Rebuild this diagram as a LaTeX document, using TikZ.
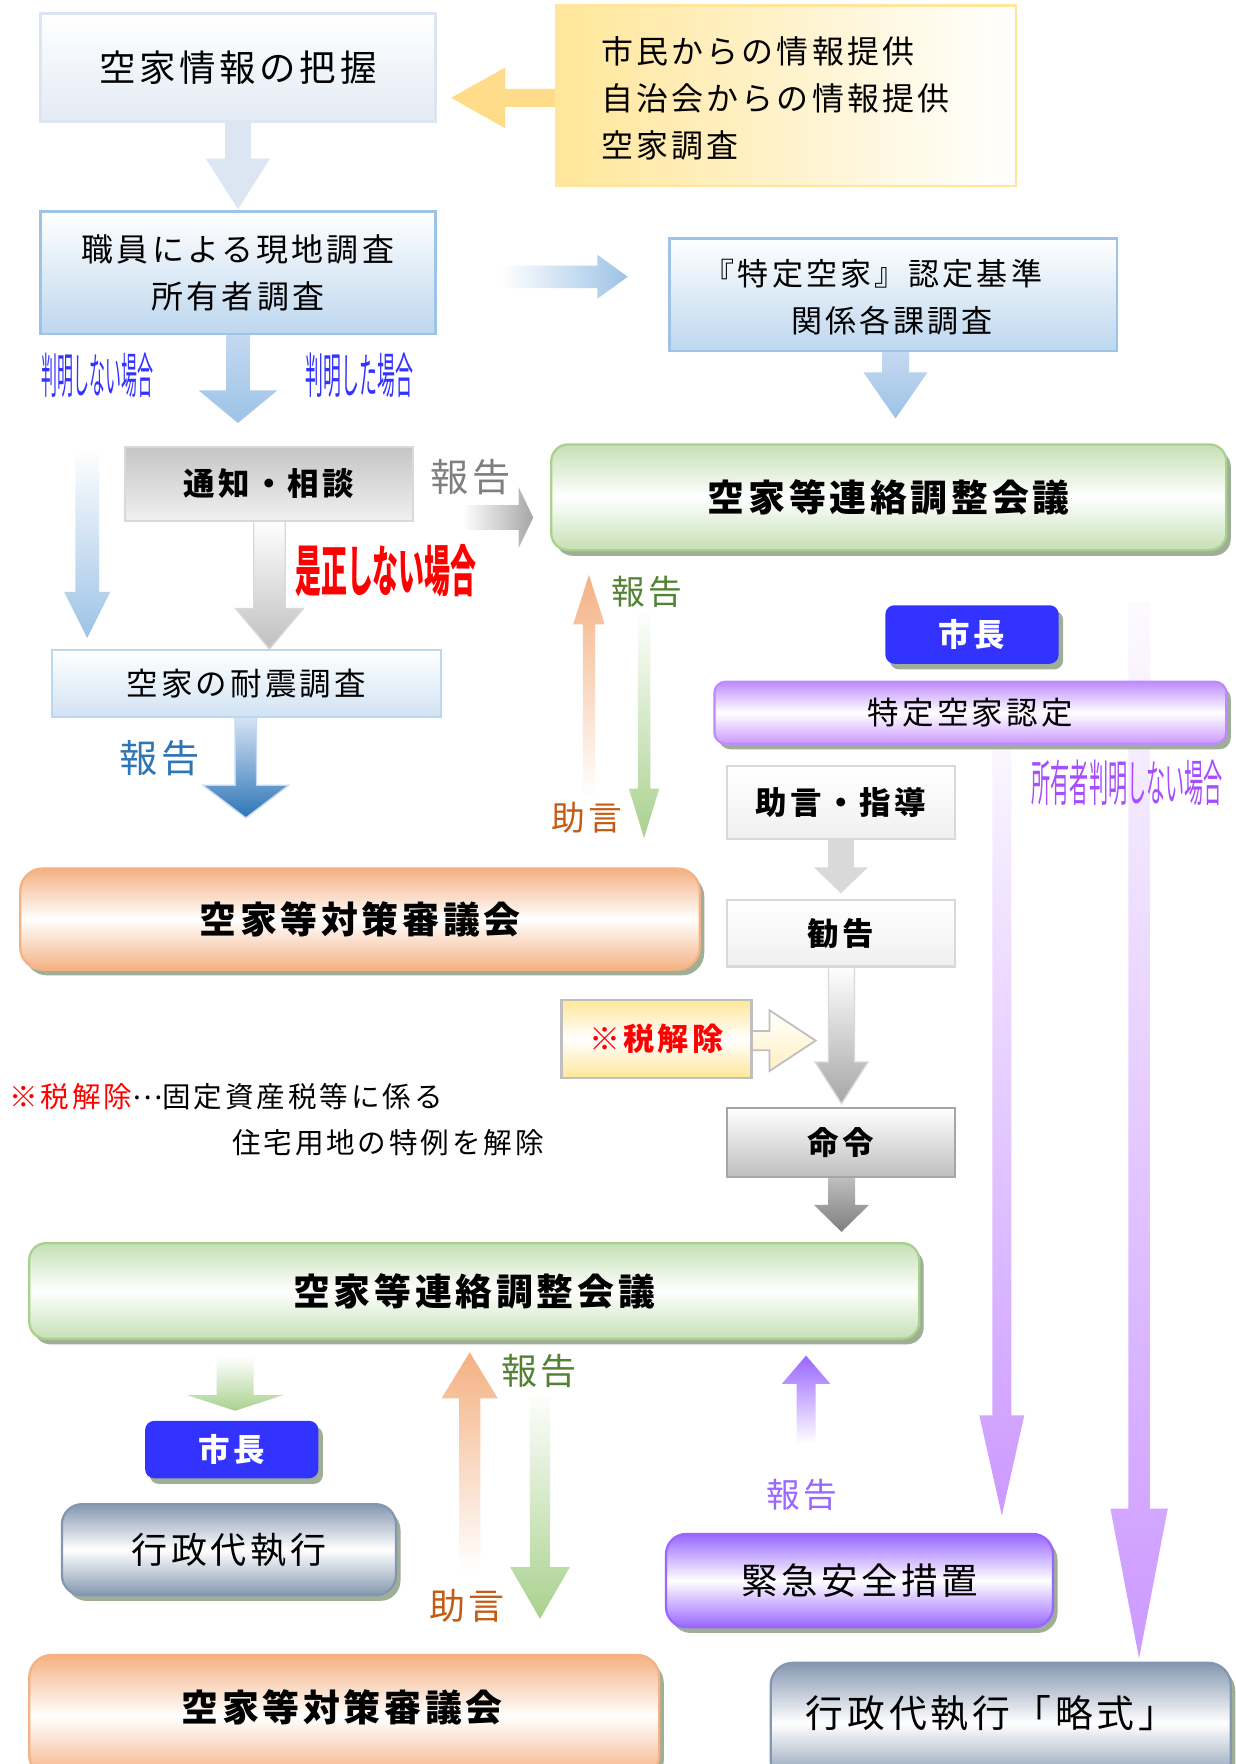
\documentclass[tikz,border=0pt]{standalone}
\usepackage{fontspec}
\newfontfamily\jp{Noto Sans CJK JP}
\newfontfamily\jps[LetterSpace=10]{Noto Sans CJK JP}
\usetikzlibrary{shadows}
\definecolor{pale}{HTML}{DCE6F2}
\definecolor{lb}{HTML}{C5D9F1}
\definecolor{mb}{HTML}{9DC3E6}
\definecolor{bxb}{HTML}{BDD7EE}
\definecolor{dkb}{HTML}{2E75B6}
\definecolor{tdkb}{HTML}{2E75B6}
\definecolor{yel}{HTML}{FFE699}
\definecolor{yarr}{HTML}{FFDC8A}
\definecolor{grn}{HTML}{A9D18E}
\definecolor{lgrn}{HTML}{C5E0B4}
\definecolor{tgrn}{HTML}{548235}
\definecolor{org}{HTML}{F4B183}
\definecolor{torg}{HTML}{C55A11}
\definecolor{pur}{HTML}{CC99FF}
\definecolor{purd}{HTML}{9966FF}
\definecolor{tpur}{HTML}{A64DFF}
\definecolor{gbl}{HTML}{8497B0}
\definecolor{shd}{HTML}{9EAE97}
\definecolor{mayor}{HTML}{3333FF}
\definecolor{lblue}{HTML}{3333FF}
\definecolor{g5}{HTML}{7F7F7F}
\definecolor{g6}{HTML}{A6A6A6}
\definecolor{g7}{HTML}{BFBFBF}
\definecolor{g8}{HTML}{D9D9D9}
\definecolor{g9}{HTML}{F0F0F0}
\newcommand\jsz[1]{\fontsize{#1pt}{#1pt}\selectfont}
\newcommand\varr[7]{\path[#1] (#2-#6,#3) -- (#2+#6,#3) -- (#2+#6,#4) -- (#2+#7,#4) -- (#2,#5) -- (#2-#7,#4) -- (#2-#6,#4) -- cycle;}
\newcommand\harr[7]{\path[#1] (#3,#2-#6) -- (#4,#2-#6) -- (#4,#2-#7) -- (#5,#2) -- (#4,#2+#7) -- (#4,#2+#6) -- (#3,#2+#6) -- cycle;}
\tikzset{
 txr/.style={inner sep=0pt, font=\jps\jsz{#1}},
 txb/.style={inner sep=0pt, font=\jps\bfseries\jsz{#1}},
 txn/.style={inner sep=0pt, font=\jp\jsz{#1}},
 bx/.style={rectangle, inner sep=0pt, line width=1pt},
 rbx/.style={bx, rounded corners=#1, drop shadow={shadow xshift=2pt, shadow yshift=-2.5pt, fill=shd, opacity=1}},
}
\begin{document}
\begin{tikzpicture}[x=0.5pt,y=-0.5pt]
\clip (0,0) rectangle (1098,1568);
\fill[white] (0,0) rectangle (1098,1568);

% ---------- block arrows ----------
\harr{fill=yarr}{87}{494}{449}{401}{8}{27}
\varr{fill=pale}{211.5}{108}{141}{186}{11.5}{28.5}
\varr{top color=lb,bottom color=mb}{211.5}{297}{347}{376}{10.5}{35}
\harr{left color=white,right color=mb}{246}{445}{531}{558}{10}{19.5}
\varr{top color=lb,bottom color=mb}{796}{312}{331}{372}{12}{28.5}
\varr{top color=white,bottom color=mb}{77.5}{398}{526}{567}{10.5}{20.5}
\varr{top color=white,bottom color=g7,draw=g8,line width=0.6pt}{239.5}{463}{541}{577}{14}{30}
\harr{left color=white,right color=g6}{460}{411}{461}{474}{11}{27}
\varr{top color=lb!70!white,bottom color=dkb,draw=lb,line width=0.6pt}{218.5}{637}{698}{727}{9.5}{38}
\varr{top color=org,bottom color=white}{523.5}{708}{555}{511}{5.5}{14}
\varr{top color=white,bottom color=grn}{572.5}{542}{701}{745}{5.5}{13.5}
\varr{fill=g8}{747.5}{746}{771}{794}{11.5}{24}
\varr{top color=white,bottom color=g6,draw=g8,line width=0.6pt}{748}{859}{944}{981}{11.5}{23.5}
\varr{top color=g7,bottom color=g5}{748}{1046}{1071}{1095}{12}{24.5}
\harr{top color=white,bottom color=yel!60!white,draw=g7,line width=0.8pt}{925}{668}{684}{725}{8.5}{27}
\varr{top color=pur!8!white,bottom color=pur}{890.5}{661}{1258}{1347}{8.5}{20}
\varr{top color=pur!5!white,bottom color=pur}{1012.5}{535}{1341}{1474}{9.5}{25.5}
\varr{top color=white,bottom color=grn}{209}{1206}{1240}{1254}{16.5}{43}
\varr{top color=org,bottom color=white}{417.5}{1396}{1243}{1202}{9.5}{25}
\varr{top color=white,bottom color=grn}{480}{1236}{1393}{1439}{9}{26.5}
\varr{top color=purd,bottom color=white}{716.5}{1283}{1230}{1205}{8.5}{21.5}

% ---------- boxes ----------
\node[bx, draw=pale, top color=white, bottom color=pale!80!white, minimum width=175.5pt, minimum height=48pt, txr=16.2] (b1) at (211.5,60) {空家情報の把握};
\node[bx, draw=yel, left color=yel, right color=white, minimum width=204.5pt, minimum height=80pt] (yinfo) at (698.5,85) {};
\node[txr=14.2, anchor=west, align=left, font=\jps\fontsize{14.2pt}{21pt}\selectfont] (yinfot) at (534,87.5) {市民からの情報提供\\自治会からの情報提供\\空家調査};
\node[bx, draw=mb, top color=white, bottom color=bxb, minimum width=175.5pt, minimum height=54.5pt, align=center, font=\jps\fontsize{14.2pt}{21pt}\selectfont] (b2) at (211.5,242.5) {職員による現地調査\\所有者調査};
\node[bx, draw=mb, top color=white, bottom color=bxb, minimum width=199pt, minimum height=50pt] (crit) at (794,262) {};
\node[txr=13.8] (crit1) at (776,243) {『特定空家』認定基準};
\node[txr=13.8] (crit2) at (793,285) {関係各課調査};
\node[bx, draw=g8, top color=g7!90!white, bottom color=g9, minimum width=128pt, minimum height=33pt, txb=14] (notice) at (239,430) {通知・相談};
\node[bx, draw=bxb, top color=white, bottom color=bxb!70!white, minimum width=173pt, minimum height=29.5pt, txr=14] (quake) at (219,607.5) {空家の耐震調査};
\node[rbx=7.5pt, draw=grn, top color=lgrn, bottom color=lgrn, middle color=white, minimum width=300pt, minimum height=47pt, txb=16.4] (cg1) at (790,442) {空家等連絡調整会議};
\node[rbx=4pt, fill=mayor, minimum width=77pt, minimum height=26pt, txb=14, text=white] (may1) at (864,564) {市長};
\node[rbx=5pt, draw=pur!70!purd, top color=pur!75!purd, bottom color=pur, middle color=white, minimum width=227.5pt, minimum height=27.5pt, txr=14] (cert) at (862.5,633.5) {特定空家認定};
\node[bx, draw=g8, top color=white, bottom color=g9, minimum width=101.5pt, minimum height=32.5pt, txb=14] (guide) at (747.5,713.5) {助言・指導};
\node[bx, draw=g8, top color=white, bottom color=g9, minimum width=101.5pt, minimum height=29.5pt, txb=14] (advise) at (747.5,829.5) {勧告};
\node[bx, draw=g7, top color=yel, bottom color=yel, middle color=white, minimum width=84.5pt, minimum height=34.5pt, txb=13.8, text=red] (tax) at (583.5,923.5) {※税解除};
\node[bx, draw=g6, top color=white, bottom color=g7, minimum width=101.5pt, minimum height=30.5pt, txb=14] (order) at (747.5,1015.5) {命令};
\node[rbx=10pt, draw=org, top color=org, bottom color=org, middle color=white, minimum width=302pt, minimum height=45pt, txb=16.4] (cm1) at (320,817) {空家等対策審議会};
\node[txr=12.7, anchor=west] (note1) at (8,975) {\textcolor{red}{※税解除}\raisebox{0.3em}{…}固定資産税等に係る};
\node[txr=12.7, anchor=west] (note2) at (206,1016) {住宅用地の特例を解除};
\node[rbx=7.5pt, draw=grn, top color=lgrn, bottom color=lgrn, middle color=white, minimum width=395.5pt, minimum height=42.5pt, txb=16.4] (cg2) at (421.5,1147.5) {空家等連絡調整会議};
\node[rbx=4pt, fill=mayor, minimum width=77pt, minimum height=25.5pt, txb=14, text=white] (may2) at (206,1288.5) {市長};
\node[rbx=9pt, draw=gbl, top color=gbl, bottom color=gbl, middle color=white, minimum width=148.5pt, minimum height=40.5pt, txr=16] (exec) at (203.5,1377.5) {行政代執行};
\node[rbx=9pt, draw=purd, top color=purd, bottom color=purd, middle color=white, minimum width=172pt, minimum height=41.5pt, txr=16.2] (emerg) at (764,1405) {緊急安全措置};
\node[rbx=10pt, draw=gbl, top color=gbl, bottom color=gbl, middle color=white, minimum width=204.5pt, minimum height=53.5pt] (simple) at (889.5,1531.5) {};
\node[txr=16.8] (simplet) at (881,1523) {行政代執行「略式」};
\node[rbx=10pt, draw=org, top color=org, bottom color=org, middle color=white, minimum width=280pt, minimum height=54.5pt] (cm2) at (306,1525.5) {};
\node[txb=16.4] (cm2t) at (304,1518) {空家等対策審議会};

% ---------- labels ----------
\node[txn=21.5, text=lblue, xscale=0.33] (unk1) at (86.5,334) {判明しない場合};
\node[txn=21.5, text=lblue, xscale=0.37] (kn1) at (319.5,334) {判明した場合};
\node[txn=24.5, font=\jp\bfseries\jsz{24.5}, text=red, xscale=0.47] (nofix) at (343,507) {是正しない場合};
\node[txr=17, text=g5] (rep1) at (418,424) {報告};
\node[txr=17, text=tdkb] (rep2) at (142,674) {報告};
\node[txr=15, text=tgrn] (rep3) at (575,526) {報告};
\node[txr=15, text=torg] (adv1) at (522,727) {助言};
\node[txn=22, text=tpur, xscale=0.386] (unk2) at (1002,696) {所有者判明しない場合};
\node[txr=16, text=tgrn] (rep4) at (479,1219) {報告};
\node[txr=16, text=torg] (adv2) at (415,1427) {助言};
\node[txr=15, text=purd] (rep5) at (713,1329) {報告};
\end{tikzpicture}
\end{document}
